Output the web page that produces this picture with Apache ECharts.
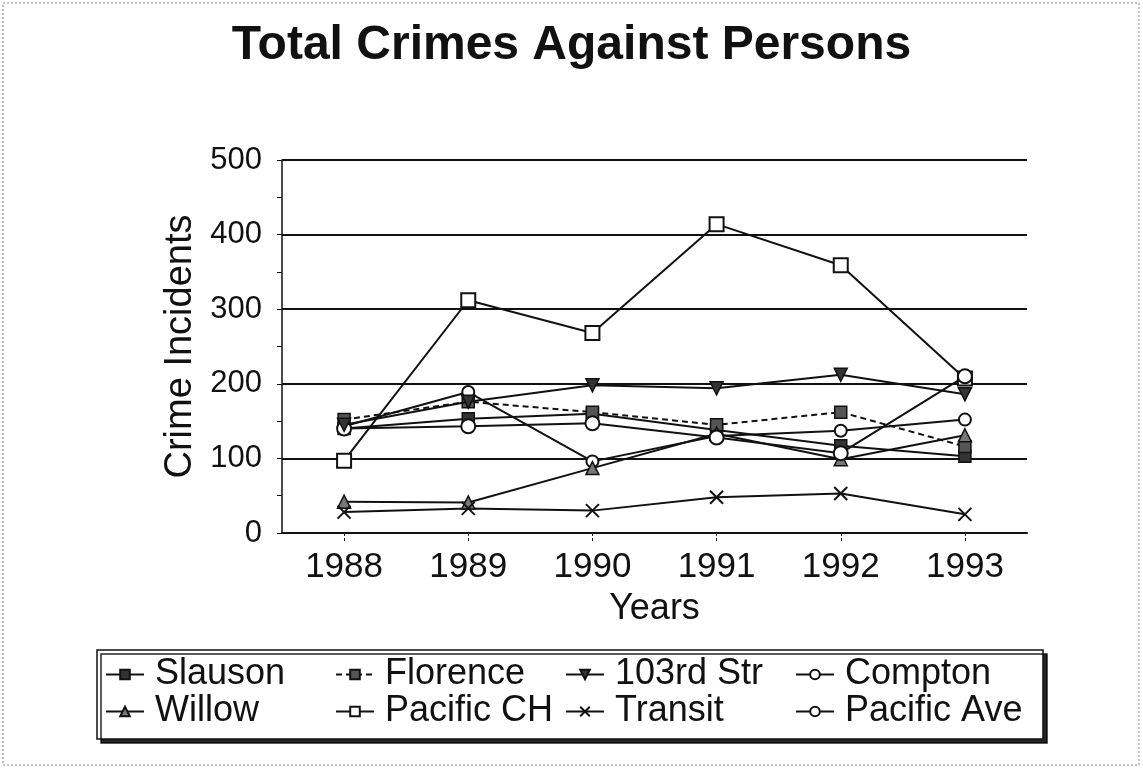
<!DOCTYPE html>
<html>
<head>
<meta charset="utf-8">
<style>
  html, body { margin: 0; padding: 0; background: #fff; }
  #chart { width: 1143px; height: 779px; }
</style>
<script src="https://cdn.jsdelivr.net/npm/echarts@6/dist/echarts.min.js"></script>
</head>
<body>
<div id="chart"></div>
<script>
// Years on the category axis
const years = ['1988', '1989', '1990', '1991', '1992', '1993'];
// Y-axis tick values
const yTicks = [0, 100, 200, 300, 400, 500];

// Total crimes against persons, by station area
const slauson    = [140, 153, 160, 138, 117, 103];
const florence   = [152, 176, 162, 145, 162, 116];
const str103     = [145, 176, 198, 194, 212, 186];
const compton    = [143, 189, 96, 130, 137, 152];
const willow     = [42, 41, 87, 133, 99, 131];
const pacificCH  = [97, 312, 268, 414, 359, 207];
const transit    = [28, 33, 30, 48, 53, 25];
const pacificAve = [140, 143, 147, 128, 107, 210];

const FONT = '"Liberation Sans", Arial, sans-serif';
const INK = '#111';

const crossPath = 'path://M0,0 L10,10 M10,0 L0,10';
const downTriangle = 'path://M0,0 L10,0 L5,9 Z';

function lineSeries(name, data, symbol, size, opts) {
  opts = opts || {};
  return {
    name: name,
    type: 'line',
    data: data,
    symbol: symbol,
    symbolSize: size,
    showAllSymbol: true,
    lineStyle: { color: INK, width: 2, type: opts.dash ? [6, 4] : 'solid' },
    itemStyle: {
      color: opts.fill || INK,
      borderColor: INK,
      borderWidth: opts.border == null ? 1.5 : opts.border
    },
    emphasis: { disabled: true },
    animation: false,
    z: opts.z || 3
  };
}

const chart = echarts.init(document.getElementById('chart'), null, { renderer: 'canvas' });

chart.setOption({
  backgroundColor: '#fff',
  textStyle: { fontFamily: FONT, color: INK },
  title: {
    text: 'Total Crimes Against Persons',
    left: 'center',
    top: 17,
    textStyle: { fontFamily: FONT, fontSize: 48, fontWeight: 'bold', color: INK }
  },
  graphic: [
    {
      type: 'rect',
      shape: { x: 3, y: 3, width: 1136, height: 762 },
      style: { fill: 'none', stroke: '#888', lineWidth: 1, lineDash: [2, 2] },
      silent: true,
      z: 0
    }
  ],
  grid: { left: 282, right: 116, top: 160, bottom: 246, containLabel: false },
  xAxis: {
    type: 'category',
    data: years,
    boundaryGap: true,
    name: 'Years',
    nameLocation: 'middle',
    nameGap: 58,
    nameTextStyle: { fontFamily: FONT, fontSize: 36, color: INK },
    axisLine: { show: true, lineStyle: { color: INK, width: 2 } },
    axisTick: { show: true, alignWithLabel: true, length: 10, lineStyle: { color: INK, width: 1, type: [3, 2] } },
    axisLabel: { fontFamily: FONT, fontSize: 35, color: INK, margin: 17 },
    splitLine: { show: false }
  },
  yAxis: {
    type: 'value',
    min: yTicks[0],
    max: yTicks[yTicks.length - 1],
    interval: 100,
    name: 'Crime Incidents',
    nameLocation: 'middle',
    nameGap: 62,
    nameTextStyle: { fontFamily: FONT, fontSize: 38, color: INK },
    axisLine: { show: true, lineStyle: { color: INK, width: 1.5 } },
    axisTick: { show: true, inside: false, length: 5, lineStyle: { color: INK, width: 1 } },
    minorTick: { show: true, splitNumber: 2, length: 5, lineStyle: { color: INK, width: 1 } },
    axisLabel: { fontFamily: FONT, fontSize: 31, color: INK, margin: 20 },
    splitLine: { show: true, lineStyle: { color: INK, width: 2 } }
  },
  legend: {
    left: 97,
    top: 650,
    width: 946,
    orient: 'horizontal',
    itemWidth: 38,
    itemHeight: 12,
    itemGap: 0,
    padding: [6, 18, 9, 8],
    backgroundColor: '#fff',
    borderColor: INK,
    borderWidth: 1.5,
    shadowColor: 'rgba(0,0,0,0.85)',
    shadowOffsetX: 4,
    shadowOffsetY: 4,
    shadowBlur: 0,
    selectedMode: false,
    textStyle: { fontFamily: FONT, fontSize: 36, color: INK, width: 180, lineHeight: 37, padding: [0, 0, 0, 6] },
    data: ['Slauson', 'Florence', '103rd Str', 'Compton', 'Willow', 'Pacific CH', 'Transit', 'Pacific Ave']
  },
  series: [
    lineSeries('Slauson', slauson, 'rect', 12, { fill: '#333' }),
    lineSeries('Florence', florence, 'rect', 12, { fill: '#555', dash: true }),
    lineSeries('103rd Str', str103, downTriangle, 13, { fill: '#333', z: 4 }),
    lineSeries('Compton', compton, 'emptyCircle', 12, { fill: INK }),
    lineSeries('Willow', willow, 'triangle', 13, { fill: '#777' }),
    lineSeries('Pacific CH', pacificCH, 'emptyRect', 14, { fill: INK }),
    lineSeries('Transit', transit, crossPath, 13, { fill: 'none', border: 2 }),
    lineSeries('Pacific Ave', pacificAve, 'emptyCircle', 14, { fill: INK })
  ]
});
</script>
</body>
</html>
